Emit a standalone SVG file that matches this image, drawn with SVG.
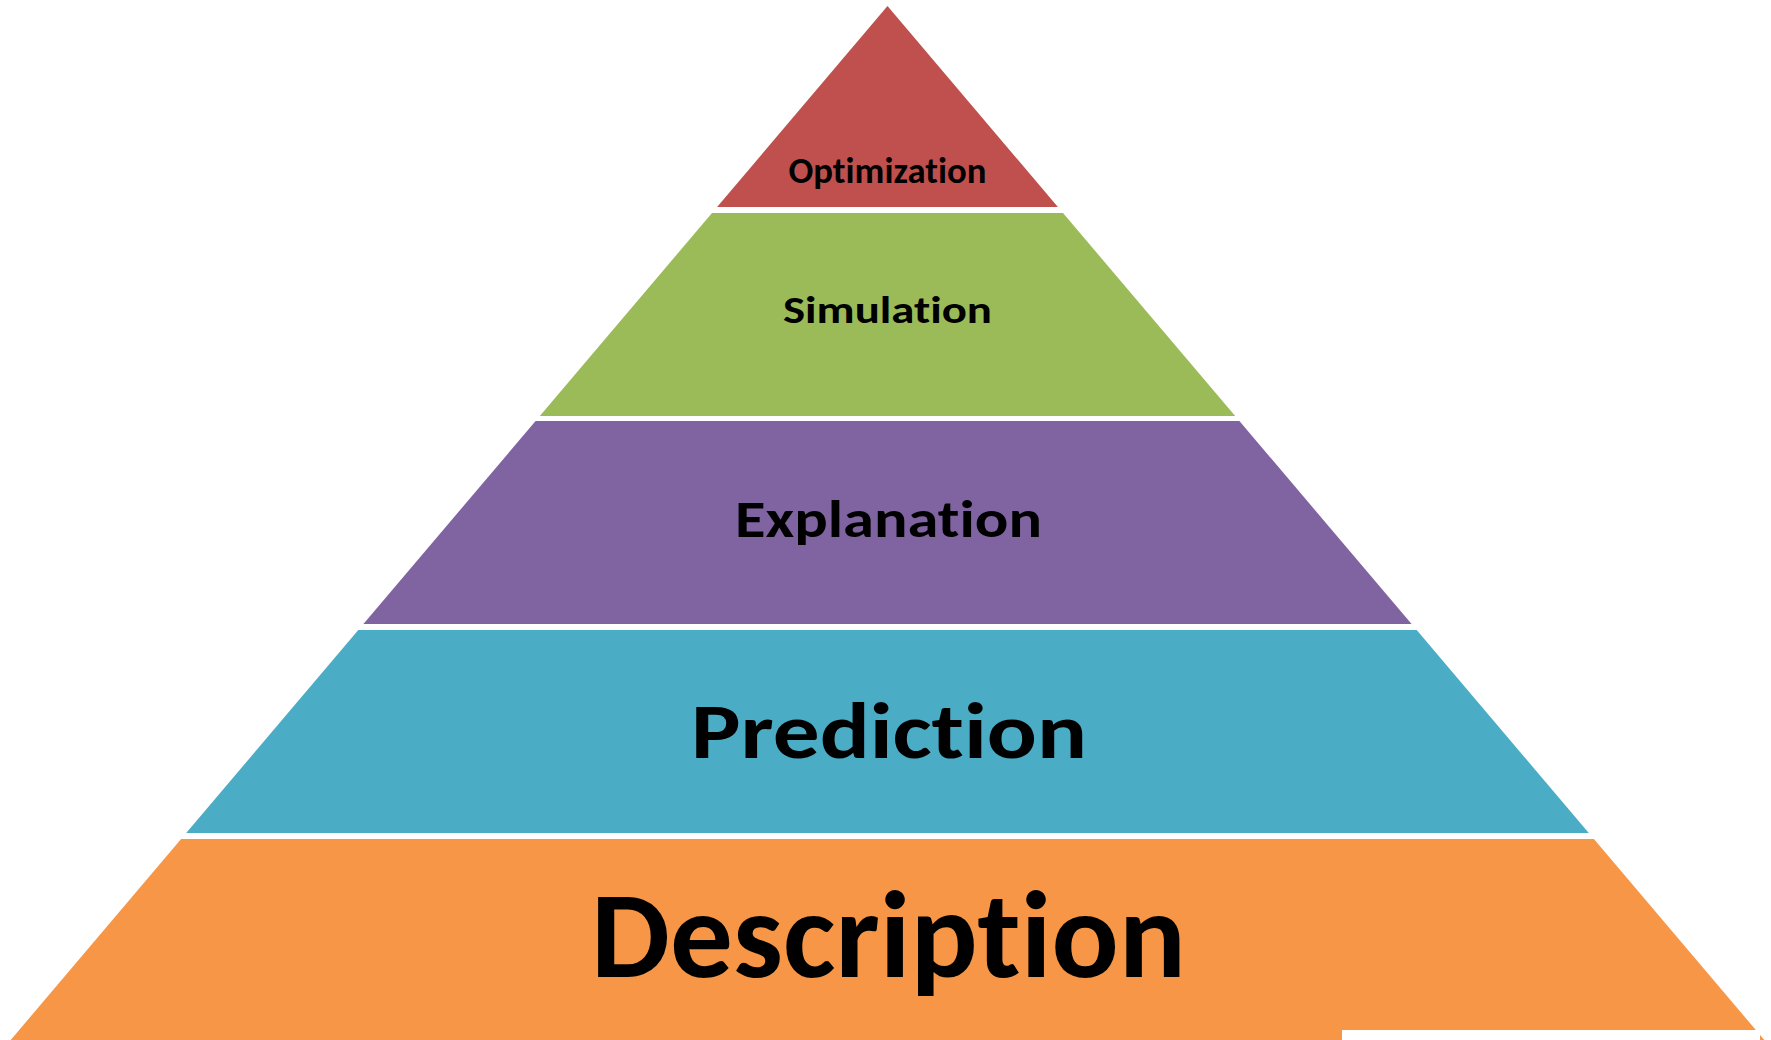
<svg xmlns="http://www.w3.org/2000/svg" width="1771" height="1040" viewBox="0 0 1771 1040">
<style>
  .lbl { font-family: Carlito, Calibri, Lato, "Open Sans", sans-serif; font-weight: bold; fill: #000; text-anchor: middle; font-variant-ligatures: none; font-feature-settings: "liga" 0; }
</style>
<rect x="0" y="0" width="1771" height="1040" fill="#fff"/>
<g id="layer-optimization">
  <polygon points="887.5,6 1057.9,207 717.1,207" fill="#C0504D"/>
  <text class="lbl" x="887.5" y="183" font-size="36" textLength="198" lengthAdjust="spacingAndGlyphs">Optimization</text>
</g>
<g id="layer-simulation">
  <polygon points="712,213 1063,213 1235.2,416 539.8,416" fill="#9BBB59"/>
  <text class="lbl" x="887.5" y="323" font-size="39" textLength="209" lengthAdjust="spacingAndGlyphs">Simulation</text>
</g>
<g id="layer-explanation">
  <polygon points="535.6,421 1239.4,421 1411.6,624 363.4,624" fill="#8064A2"/>
  <text class="lbl" x="888.5" y="537" font-size="53" textLength="307" lengthAdjust="spacingAndGlyphs">Explanation</text>
</g>
<g id="layer-prediction">
  <polygon points="358.3,630 1416.7,630 1588.8,833 186.2,833" fill="#4BACC6"/>
  <text class="lbl" x="889" y="758" font-size="79" textLength="396" lengthAdjust="spacingAndGlyphs">Prediction</text>
</g>
<g id="layer-description">
  <polygon points="181.1,839 1593.9,839 1764.3,1040 10.7,1040" fill="#F79646"/>
  <text class="lbl" x="888.5" y="977" font-size="124" textLength="595" lengthAdjust="spacingAndGlyphs">Description</text>
</g>
<g id="connectors"></g>
<rect x="1342" y="1030" width="418" height="10" fill="#fff"/>
</svg>
